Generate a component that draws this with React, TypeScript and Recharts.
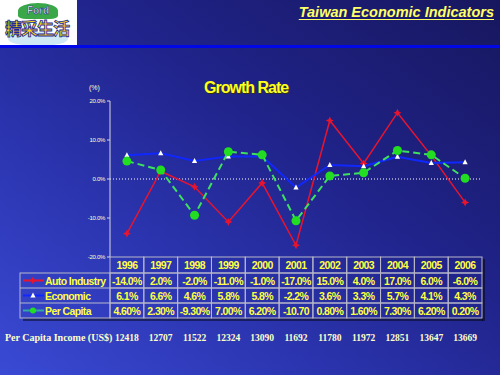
import React from 'react';
import { LineChart, Line, XAxis, YAxis, ReferenceLine } from 'recharts';

const years = ['1996', '1997', '1998', '1999', '2000', '2001', '2002', '2003', '2004', '2005', '2006'];
const autoIndustry = [-14, 2, -2, -11, -1, -17, 15, 4, 17, 6, -6];
const economic = [6.1, 6.6, 4.6, 5.8, 5.8, -2.2, 3.6, 3.3, 5.7, 4.1, 4.3];
const perCapita = [4.6, 2.3, -9.3, 7.0, 6.2, -10.7, 0.8, 1.6, 7.3, 6.2, 0.2];
const autoLabels = ['-14.0%', '2.0%', '-2.0%', '-11.0%', '-1.0%', '-17.0%', '15.0%', '4.0%', '17.0%', '6.0%', '-6.0%'];
const economicLabels = ['6.1%', '6.6%', '4.6%', '5.8%', '5.8%', '-2.2%', '3.6%', '3.3%', '5.7%', '4.1%', '4.3%'];
const perCapitaLabels = ['4.60%', '2.30%', '-9.30%', '7.00%', '6.20%', '-10.70', '0.80%', '1.60%', '7.30%', '6.20%', '0.20%'];
const perCapitaIncome = [12418, 12707, 11522, 12324, 13090, 11692, 11780, 11972, 12851, 13647, 13669];
const yTicks = [-20, -10, 0, 10, 20];

const data = years.map((y, i) => ({
  year: y,
  auto: autoIndustry[i],
  economic: economic[i],
  perCapita: perCapita[i],
}));

const W = 500;
const H = 375;
const margin = { top: 101, right: 18, bottom: 18, left: 60 };
const yAxisW = 50;
const bandW = (W - margin.left - yAxisW - margin.right) / years.length;

const AUTO = '#e8142e';
const ECON = '#1028ff';
const PERCAP = '#3ee060';
const BORDER = '#b8b8c8';
const TXT = '#ffff44';
const font = 'Arial, "Liberation Sans", sans-serif';
const serif = '"Liberation Serif", "DejaVu Serif", serif';

const rowTops = [0, 16, 31, 46, 61];

const StarDot = (props: any) => {
  const { cx, cy } = props;
  if (cx == null || cy == null) return null;
  const r = 4;
  const pts = [
    [cx, cy - r], [cx + 1.3, cy - 1.3], [cx + r, cy], [cx + 1.3, cy + 1.3],
    [cx, cy + r], [cx - 1.3, cy + 1.3], [cx - r, cy], [cx - 1.3, cy - 1.3],
  ].map(p => p.join(',')).join(' ');
  return <polygon points={pts} fill={AUTO} />;
};

const TriDot = (props: any) => {
  const { cx, cy } = props;
  if (cx == null || cy == null) return null;
  return <polygon points={`${cx},${cy - 3} ${cx + 2.6},${cy + 2} ${cx - 2.6},${cy + 2}`} fill="#ffffff" />;
};

const CircleDot = (props: any) => {
  const { cx, cy } = props;
  if (cx == null || cy == null) return null;
  return <circle cx={cx} cy={cy} r={4.5} fill="#22dd22" />;
};

const legendRows = [
  { label: 'Auto Industry', color: AUTO, marker: 'star' },
  { label: 'Economic', color: ECON, marker: 'tri' },
  { label: 'Per Capita', color: '#30a8a0', marker: 'circle' },
];

const TableTick = (props: any) => {
  const { x, y, index } = props;
  const left = x - bandW / 2;
  const top = y;
  const rows = [years[index], autoLabels[index], economicLabels[index], perCapitaLabels[index]];
  const tableLeft = 20;
  const tableRight = W - margin.right;
  return (
    <g>
      {index === 0 && (
        <g>
          <rect x={tableRight} y={top + 2} width={3} height={rowTops[4] + 1} fill="rgba(0,0,0,0.45)" />
          <rect x={tableLeft + 3} y={top + rowTops[4]} width={tableRight - tableLeft - 2} height={3} fill="rgba(0,0,0,0.45)" />
          <rect x={tableLeft} y={top + rowTops[1]} width={left - tableLeft} height={rowTops[4] - rowTops[1]} fill="none" stroke={BORDER} strokeWidth={1} />
          {legendRows.map((r, i) => {
            const cy = top + (rowTops[i + 1] + rowTops[i + 2]) / 2;
            const mx = tableLeft + 13;
            return (
              <g key={r.label}>
                {i > 0 && <line x1={tableLeft} x2={left} y1={top + rowTops[i + 1]} y2={top + rowTops[i + 1]} stroke={BORDER} />}
                <line x1={tableLeft + 3} x2={tableLeft + 24} y1={cy} y2={cy} stroke={r.color} strokeWidth={2} />
                {r.marker === 'star' && <StarDot cx={mx} cy={cy} />}
                {r.marker === 'tri' && <TriDot cx={mx} cy={cy} />}
                {r.marker === 'circle' && <circle cx={mx} cy={cy} r={3} fill="#22dd22" />}
                <text x={tableLeft + 25} y={cy + 4} fill={TXT} fontSize={10.5} fontWeight="bold" fontFamily={font} letterSpacing={-0.6}>
                  {r.label}
                </text>
              </g>
            );
          })}
          <text x={5} y={top + 84} fill="#ffffcc" fontSize={10} fontWeight="bold" fontFamily={serif}>
            Per Capita Income (US$)
          </text>
        </g>
      )}
      {rows.map((t, i) => (
        <g key={i}>
          <rect x={left} y={top + rowTops[i]} width={bandW} height={rowTops[i + 1] - rowTops[i]} fill="none" stroke={BORDER} strokeWidth={1} />
          <text x={x} y={top + (rowTops[i] + rowTops[i + 1]) / 2 + 4} textAnchor="middle" fill={TXT} fontSize={10.5} fontWeight="bold" fontFamily={font} letterSpacing={-0.6}>
            {t}
          </text>
        </g>
      ))}
      <text x={x} y={top + 84} textAnchor="middle" fill="#ffffcc" fontSize={9.5} fontWeight="bold" fontFamily={serif}>
        {perCapitaIncome[index]}
      </text>
    </g>
  );
};

const YTick = (props: any) => {
  const { x, y, payload } = props;
  return (
    <text x={x} y={y + 2} textAnchor="end" fill="#ffffcc" fontSize={6} fontFamily={font} letterSpacing={-0.3}>
      {payload.value.toFixed(1)}%
    </text>
  );
};

export default function App() {
  return (
    <div
      style={{
        position: 'absolute',
        left: 0,
        top: 0,
        width: W,
        height: H,
        overflow: 'hidden',
        background: 'linear-gradient(to top right, #3a4ad4 0%, #2c36b2 30%, #20238a 60%, #17175e 100%)',
      }}
    >
      {/* logo */}
      <div style={{ position: 'absolute', left: 0, top: 0, width: 77, height: 45, background: '#ffffff', overflow: 'hidden' }}>
        <div style={{ position: 'absolute', left: 18, top: 3, width: 40, height: 16, borderRadius: '50% 50% 20% 20%', background: '#3aa848' }} />
        <div style={{ position: 'absolute', left: 8, top: 32, width: 60, height: 14, borderRadius: '50%', background: '#cfe8f6' }} />
        <div style={{ position: 'absolute', left: 27, top: 5, fontFamily: font, fontWeight: 'bold', fontSize: 10, color: '#ffffff', WebkitTextStroke: '0.6px #1a3a8a' }}>Ford</div>
        <div style={{ position: 'absolute', left: 5, top: 16, fontFamily: '"Noto Sans CJK TC", sans-serif', fontWeight: 'bold', fontSize: 17, lineHeight: '24px', color: '#ffd21a', WebkitTextStroke: '0.8px #1a2a9a', letterSpacing: -1 }}>精采生活</div>
      </div>
      <div style={{ position: 'absolute', left: 0, top: 45, width: W, height: 3, background: '#0008e8' }} />
      <div style={{ position: 'absolute', right: 6, top: 4, fontFamily: font, fontWeight: 'bold', fontStyle: 'italic', fontSize: 14.5, color: '#ffff66', textDecoration: 'underline', textDecorationThickness: 1, textUnderlineOffset: 2 }}>
        Taiwan Economic Indicators
      </div>
      <div style={{ position: 'absolute', left: 204, top: 79, fontFamily: font, fontWeight: 'bold', fontSize: 16, color: '#ffff22', letterSpacing: -1, textShadow: '1px 1px 0 #333300' }}>
        Growth Rate
      </div>
      <div style={{ position: 'absolute', left: 89, top: 84, fontFamily: font, fontSize: 7, color: '#ffffcc' }}>(%)</div>
      <LineChart width={W} height={H} data={data} margin={margin} style={{ position: 'absolute', left: 0, top: 0 }}>
        <XAxis
          dataKey="year"
          interval={0}
          height={100}
          padding={{ left: bandW / 2, right: bandW / 2 }}
          tickSize={0}
          tickMargin={0}
          tickLine={false}
          axisLine={false}
          tick={<TableTick />}
        />
        <YAxis
          domain={[-20, 20]}
          ticks={yTicks}
          width={yAxisW}
          axisLine={{ stroke: '#d8d8e0' }}
          tickLine={{ stroke: '#d8d8e0' }}
          tickSize={3}
          tick={<YTick />}
        />
        <ReferenceLine y={0} stroke="#ffffff" strokeDasharray="1 2" />
        <Line dataKey="auto" stroke={AUTO} strokeWidth={1.5} dot={<StarDot />} isAnimationActive={false} />
        <Line dataKey="economic" stroke={ECON} strokeWidth={2} dot={<TriDot />} isAnimationActive={false} />
        <Line dataKey="perCapita" stroke={PERCAP} strokeWidth={2} strokeDasharray="7 4" dot={<CircleDot />} isAnimationActive={false} />
      </LineChart>
    </div>
  );
}
